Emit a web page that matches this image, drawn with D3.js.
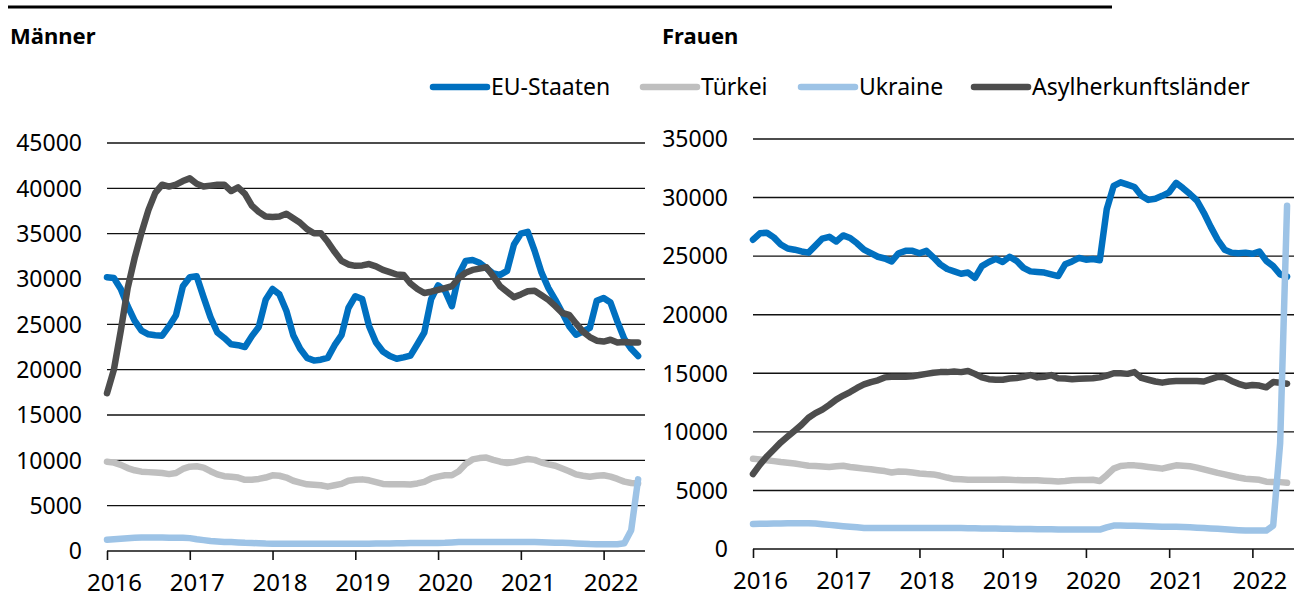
<!DOCTYPE html>
<html>
<head>
<meta charset="utf-8">
<script src="https://cdn.jsdelivr.net/npm/d3@7"></script>
<style>
  body { margin: 0; background: #fff; }
  svg text { font-family: "Noto Sans", sans-serif; fill: #000; }
</style>
</head>
<body>
<div id="chart"></div>
<script>
// monthly values Jan 2016 .. Jun 2022
const years = ["2016", "2017", "2018", "2019", "2020", "2021", "2022"];
const seriesNames = ["EU-Staaten", "Türkei", "Ukraine", "Asylherkunftsländer"];
const seriesColors = ["#0070c0", "#bfbfbf", "#9dc3e6", "#4d4d4d"];

const menEU = [30200,30100,28900,27000,25400,24300,23900,23800,23750,24800,26000,29200,
  30200,30300,28000,25800,24100,23500,22800,22700,22500,23700,24700,27700,
  28900,28300,26500,23800,22300,21300,21000,21100,21300,22700,23800,26800,
  28100,27800,24800,23000,22000,21500,21200,21350,21550,22800,24100,27800,
  29300,28700,27000,30500,32000,32100,31800,31200,30600,30450,30900,33800,
  35000,35200,33100,30700,29000,27700,26300,24800,23850,24200,24600,27600,
  27900,27400,25300,23400,22300,21500];
const menTR = [9850,9750,9500,9150,8900,8750,8700,8650,8600,8480,8600,9050,
  9300,9350,9200,8800,8450,8250,8200,8100,7850,7850,7950,8100,
  8350,8300,8100,7750,7550,7350,7300,7250,7100,7250,7400,7750,
  7850,7900,7800,7600,7400,7370,7370,7370,7330,7450,7630,8000,
  8200,8350,8360,8800,9600,10100,10250,10300,10050,9850,9700,9800,
  10000,10150,10050,9750,9550,9400,9100,8800,8450,8300,8180,8300,
  8360,8200,7950,7650,7500,7450];
const menUA = [1250,1300,1350,1400,1450,1500,1500,1500,1480,1470,1450,1450,
  1420,1300,1200,1100,1050,1000,980,950,900,880,850,820,
  810,810,810,810,800,800,800,800,810,810,810,810,
  810,810,810,820,830,840,850,860,870,880,880,880,
  880,900,950,1000,1000,1000,1000,1000,990,980,980,990,
  1000,990,980,960,940,920,900,870,840,800,760,740,
  740,740,740,850,2300,7900];
const menAS = [17400,20000,24300,29000,32300,35100,37600,39500,40400,40200,40400,40800,
  41100,40500,40200,40300,40400,40400,39700,40100,39400,38100,37400,36900,
  36850,36900,37200,36700,36200,35500,35050,35050,34100,33000,32000,31600,
  31450,31500,31650,31400,31000,30750,30500,30450,29500,28900,28450,28600,
  28800,29000,29200,30100,30700,31000,31150,31300,30300,29200,28600,28000,
  28300,28650,28700,28200,27700,27000,26250,26050,25100,24200,23600,23200,
  23100,23300,23000,23050,23000,23000];

const womenEU = [26400,26950,27000,26600,26000,25650,25550,25400,25300,25900,26500,26650,
  26250,26770,26550,26100,25550,25250,24950,24800,24550,25250,25450,25450,
  25250,25450,24900,24300,23900,23700,23500,23600,23150,24150,24500,24770,
  24500,24950,24600,24000,23700,23650,23600,23450,23300,24300,24550,24850,
  24700,24750,24650,29000,31000,31300,31100,30900,30150,29800,29900,30150,
  30450,31250,30800,30300,29750,28700,27500,26400,25550,25300,25250,25300,
  25200,25400,24600,24150,23450,23250];
const womenTR = [7700,7650,7570,7500,7420,7360,7300,7200,7100,7080,7050,7000,
  7060,7110,7000,6930,6860,6800,6720,6650,6530,6620,6600,6530,
  6450,6400,6370,6250,6100,5970,5950,5920,5910,5910,5910,5920,
  5940,5920,5880,5860,5860,5860,5830,5800,5770,5800,5860,5880,
  5900,5910,5800,6300,6860,7080,7140,7140,7080,7000,6930,6860,
  7000,7140,7100,7060,6950,6800,6650,6500,6370,6230,6100,6000,
  5950,5910,5750,5710,5710,5650];
const womenUA = [2140,2150,2160,2170,2180,2190,2200,2200,2200,2180,2120,2060,
  2000,1950,1900,1850,1800,1800,1800,1800,1800,1800,1800,1800,
  1800,1800,1800,1800,1800,1800,1790,1780,1770,1760,1750,1740,
  1730,1720,1710,1700,1700,1690,1680,1680,1670,1670,1660,1660,
  1660,1660,1660,1850,2000,2000,1990,1980,1960,1940,1920,1910,
  1900,1890,1870,1850,1820,1800,1760,1720,1680,1640,1600,1570,
  1570,1570,1570,2000,9000,29300];
const womenAS = [6400,7200,7900,8500,9100,9600,10100,10600,11200,11600,11900,12300,
  12750,13100,13400,13750,14050,14250,14400,14650,14700,14700,14700,14750,
  14850,14950,15050,15100,15100,15150,15100,15200,14950,14650,14500,14450,
  14450,14550,14600,14700,14850,14650,14700,14850,14570,14550,14500,14530,
  14550,14570,14650,14800,15000,15000,14950,15100,14600,14450,14300,14200,
  14300,14340,14340,14340,14340,14300,14500,14700,14650,14350,14100,13920,
  14000,13950,13800,14250,14200,14100];

const menMax = 45000, womenMax = 35000;
const menTicks = d3.range(0, 45001, 5000);
const womenTicks = d3.range(0, 35001, 5000);

const W = 1298, H = 599;
const svg = d3.select("#chart").append("svg")
  .attr("width", W).attr("height", H);

// top rule
svg.append("line")
  .attr("x1", 8).attr("x2", 1112).attr("y1", 7).attr("y2", 7)
  .attr("stroke", "#000").attr("stroke-width", 3);

function panel(opts) {
  const x = d3.scaleLinear().domain([0, 78]).range([opts.x0, opts.x1]);
  const y = d3.scaleLinear().domain([0, opts.max]).range([opts.y0, opts.y1]);
  const g = svg.append("g");

  // gridlines
  g.selectAll(".grid")
    .data(opts.ticks.filter(t => t > 0))
    .enter().append("line")
    .attr("x1", opts.x0).attr("x2", opts.x1)
    .attr("y1", d => y(d)).attr("y2", d => y(d))
    .attr("stroke", "#111").attr("stroke-width", 1.4);

  // y labels
  g.selectAll(".ylab")
    .data(opts.ticks)
    .enter().append("text")
    .attr("x", opts.x0 - 25)
    .attr("y", d => y(d))
    .attr("dy", "0.36em")
    .attr("text-anchor", "end")
    .style("font-size", "23px")
    .text(d => d);

  // x axis
  const xAxis = d3.axisBottom(x)
    .tickValues(years.map((d, i) => i * 12))
    .tickFormat((d, i) => years[i])
    .tickSize(9)
    .tickPadding(14);
  const ax = g.append("g")
    .attr("transform", "translate(0," + opts.y0 + ")")
    .call(xAxis);
  ax.select(".domain").attr("stroke", "#111").attr("stroke-width", 1.6)
    .attr("d", "M" + opts.x0 + ",0H" + opts.x1);
  ax.selectAll(".tick line").attr("stroke", "#111").attr("stroke-width", 1.6);
  ax.selectAll(".tick text")
    .attr("dx", 7)
    .style("font-size", "24px")
    .style("font-family", "'Noto Sans', sans-serif")
    .attr("fill", "#000");

  const line = d3.line()
    .x((d, i) => x(i))
    .y(d => y(d));

  // drawing order: EU, Türkei, Asyl, Ukraine
  [0, 1, 3, 2].forEach(k => {
    g.append("path")
      .datum(opts.series[k])
      .attr("d", line)
      .attr("fill", "none")
      .attr("stroke", seriesColors[k])
      .attr("stroke-width", 6.5)
      .attr("stroke-linejoin", "round")
      .attr("stroke-linecap", "round");
  });

  svg.append("text")
    .attr("x", opts.titleX).attr("y", 44)
    .style("font-size", "22px")
    .style("font-weight", "bold")
    .text(opts.title);
}

panel({
  title: "Männer", titleX: 10,
  x0: 107, x1: 645, y0: 551, y1: 143,
  max: menMax, ticks: menTicks,
  series: [menEU, menTR, menUA, menAS]
});
panel({
  title: "Frauen", titleX: 662,
  x0: 753, x1: 1294, y0: 549, y1: 139,
  max: womenMax, ticks: womenTicks,
  series: [womenEU, womenTR, womenUA, womenAS]
});

// legend
const legendX = [433, 643, 801, 974];
const lg = svg.append("g");
seriesNames.forEach((name, i) => {
  lg.append("line")
    .attr("x1", legendX[i]).attr("x2", legendX[i] + 54)
    .attr("y1", 87).attr("y2", 87)
    .attr("stroke", seriesColors[i])
    .attr("stroke-width", 6.5)
    .attr("stroke-linecap", "round");
  lg.append("text")
    .attr("x", legendX[i] + 58).attr("y", 95)
    .style("font-size", "23px")
    .text(name);
});
</script>
</body>
</html>
